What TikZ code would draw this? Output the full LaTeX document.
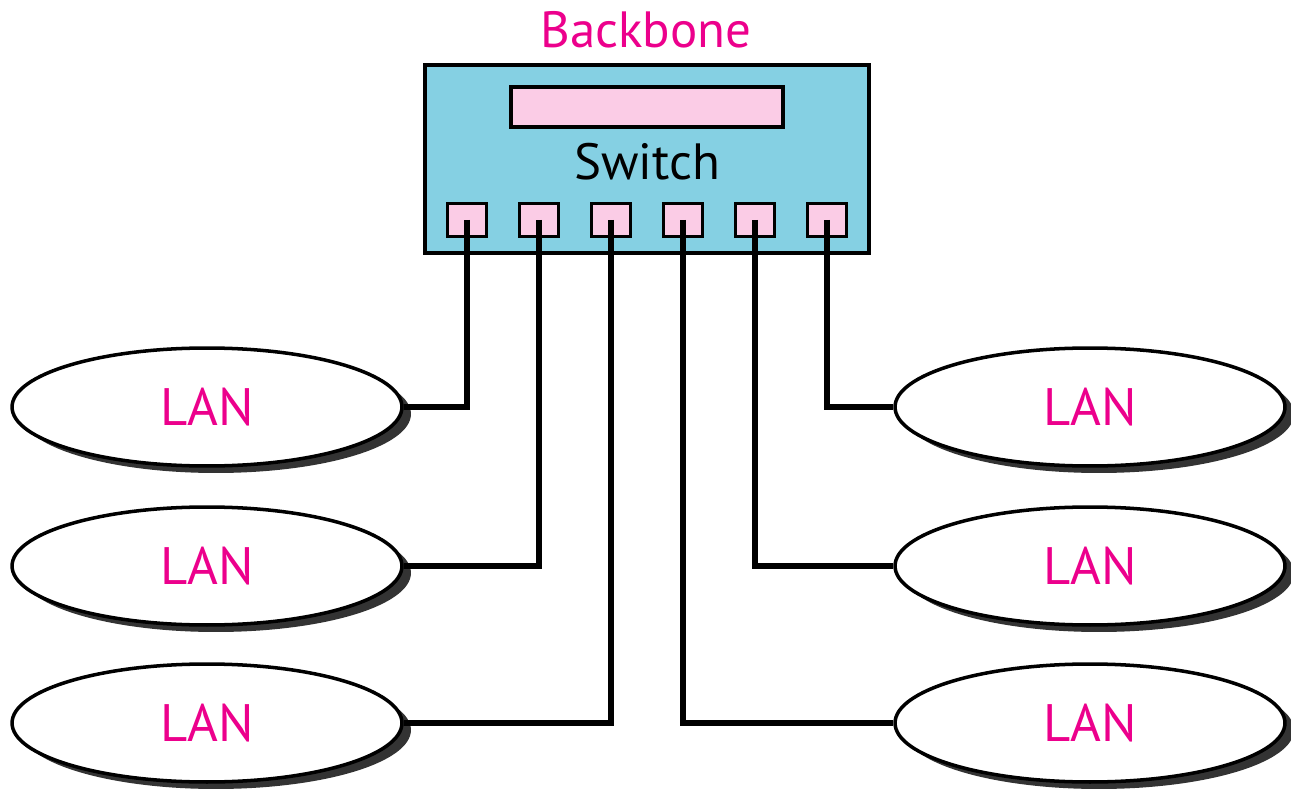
\documentclass[tikz,border=0pt]{standalone}
\usepackage{fontspec}
\setmainfont{PT Sans}
\usetikzlibrary{shapes.geometric,shadows}
\definecolor{lanpink}{HTML}{EC008C}
\definecolor{switchblue}{HTML}{85D0E3}
\definecolor{portpink}{HTML}{FBCCE6}
\tikzset{
  lan/.style={ellipse,draw,line width=2pt,fill=white,minimum width=7.8cm,minimum height=2.36cm,
    text=lanpink,font=\fontsize{30}{30}\selectfont,
    drop shadow={shadow xshift=0.18cm,shadow yshift=-0.14cm,fill=black!80,opacity=1}},
  port/.style={rectangle,draw,line width=2pt,fill=portpink,minimum width=0.78cm,minimum height=0.66cm,inner sep=0pt},
  wire/.style={line width=3pt}
}
\begin{document}
\begin{tikzpicture}[x=0.02cm,y=-0.02cm]
\useasboundingbox (0,0) rectangle (1291,797);
\node[text=lanpink,font=\fontsize{29}{29}\selectfont] (bb) at (646,30) {Backbone};
\node[rectangle,draw,line width=2pt,fill=switchblue,minimum width=8.88cm,minimum height=3.76cm] (sw) at (647,159) {};
\node[rectangle,draw,line width=2pt,fill=portpink,minimum width=5.44cm,minimum height=0.8cm] (disp) at (647,107) {};
\node[font=\fontsize{29}{29}\selectfont] (swl) at (647,162) {Switch};
\node[port] (p1) at (467,220) {};
\node[port] (p2) at (539,220) {};
\node[port] (p3) at (611,220) {};
\node[port] (p4) at (683,220) {};
\node[port] (p5) at (755,220) {};
\node[port] (p6) at (827,220) {};
\node[lan] (l1) at (207,407) {LAN};
\node[lan] (l2) at (207,566) {LAN};
\node[lan] (l3) at (207,723) {LAN};
\node[lan] (r1) at (1090,407) {LAN};
\node[lan] (r2) at (1090,566) {LAN};
\node[lan] (r3) at (1090,723) {LAN};
\draw[wire] (p1.center) |- (l1.east);
\draw[wire] (p2.center) |- (l2.east);
\draw[wire] (p3.center) |- (l3.east);
\draw[wire] (p4.center) |- (r3.west);
\draw[wire] (p5.center) |- (r2.west);
\draw[wire] (p6.center) |- (r1.west);
\end{tikzpicture}
\end{document}
